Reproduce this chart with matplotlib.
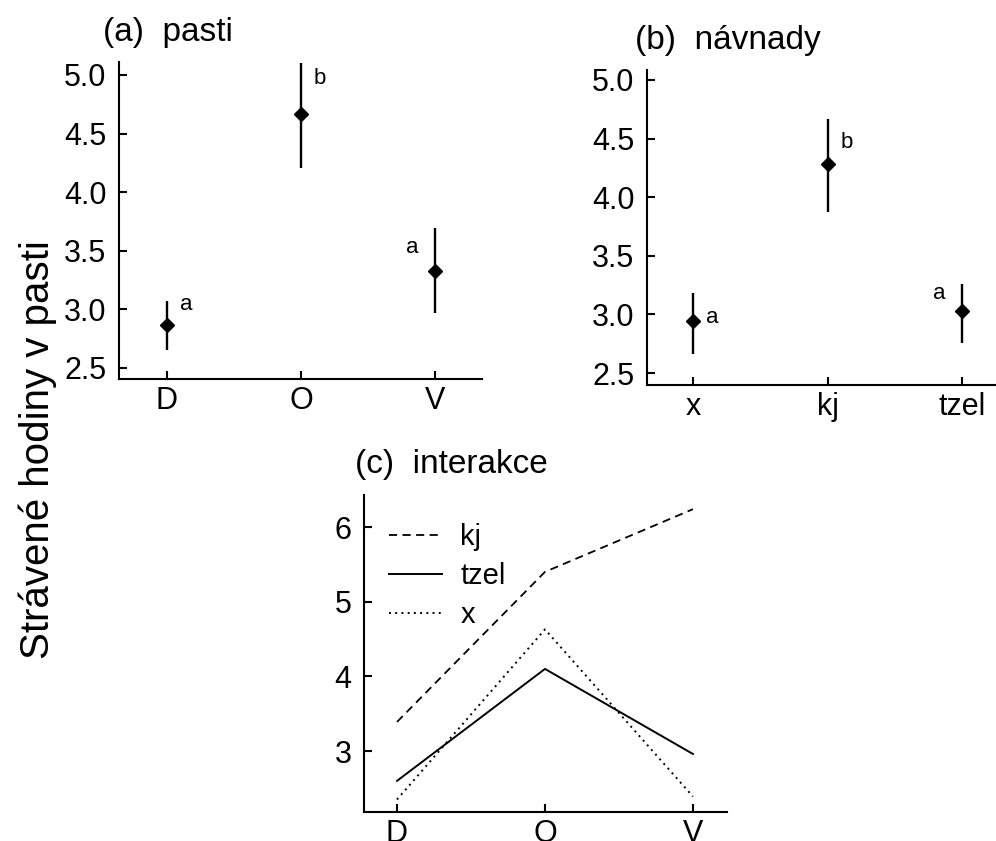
import matplotlib
matplotlib.use('Agg')
import matplotlib.pyplot as plt

plt.rcParams['font.family'] = ['Liberation Sans', 'DejaVu Sans']

W, H = 996, 841

# (a) pasti - průměry a intervaly
pasti = ['D', 'O', 'V']
pasti_mean = [2.87, 4.67, 3.33]
pasti_low = [2.65, 4.21, 2.97]
pasti_high = [3.07, 5.10, 3.69]
pasti_pismena = ['a', 'b', 'a']
pasti_pismena_y = [3.04, 4.97, 3.53]

# (b) návnady
navnady = ['x', 'kj', 'tzel']
navnady_mean = [2.94, 4.28, 3.03]
navnady_low = [2.66, 3.87, 2.76]
navnady_high = [3.18, 4.67, 3.26]
navnady_pismena = ['a', 'b', 'a']
navnady_pismena_y = [2.97, 4.47, 3.18]

# (c) interakce
inter_kj = [3.39, 5.40, 6.24]
inter_tzel = [2.60, 4.10, 2.96]
inter_x = [2.35, 4.63, 2.39]

# posun písmen vůči bodu (v jednotkách osy x)
pismena_dx = [0.14, 0.14, -0.17]

fig = plt.figure(figsize=(W / 100, H / 100), dpi=100)


def osa_px(left, top, right, bottom):
    return fig.add_axes([left / W, 1 - bottom / H, (right - left) / W, (bottom - top) / H])


def styl(ax):
    ax.spines['top'].set_visible(False)
    ax.spines['right'].set_visible(False)
    for s in ['left', 'bottom']:
        ax.spines[s].set_linewidth(1.5)
    ax.tick_params(axis='both', direction='in', length=6, width=1.5, labelsize=22)
    ax.tick_params(axis='y', pad=9)
    ax.tick_params(axis='x', pad=5)
    ax.patch.set_alpha(0)


def bodovy_graf(ax, kategorie, mean, low, high, pismena, pismena_y):
    xs = list(range(1, len(kategorie) + 1))
    ax.vlines(xs, low, high, color='black', lw=1.7)
    ax.plot(xs, mean, 'D', color='black', ms=7, ls='none')
    for i, p in enumerate(pismena):
        ax.text(xs[i] + pismena_dx[i], pismena_y[i], p, fontsize=16,
                ha='center', va='center')
    ax.set_xticks(xs)
    ax.set_xticklabels(kategorie)
    ax.set_yticks([2.5, 3.0, 3.5, 4.0, 4.5, 5.0])
    ax.set_yticklabels(['2.5', '3.0', '3.5', '4.0', '4.5', '5.0'])
    styl(ax)


# (a)
ax1 = osa_px(119, 62, 482, 379)
bodovy_graf(ax1, pasti, pasti_mean, pasti_low, pasti_high, pasti_pismena, pasti_pismena_y)
ax1.set_xlim(0.642, 3.35)
ax1.set_ylim(2.406, 5.11)

# (b)
ax2 = osa_px(647, 70, 1000, 385)
bodovy_graf(ax2, navnady, navnady_mean, navnady_low, navnady_high, navnady_pismena, navnady_pismena_y)
ax2.set_xlim(0.658, 3.28)
ax2.set_ylim(2.398, 5.085)

# (c)
ax3 = osa_px(364, 495, 727, 812)
xs = [1, 2, 3]
ax3.plot(xs, inter_kj, color='black', lw=1.3, ls=(0, (4.5, 3)), label='kj')
ax3.plot(xs, inter_tzel, color='black', lw=1.4, ls='-', label='tzel')
ax3.plot(xs, inter_x, color='black', lw=1.4, ls=(0, (1.0, 2.2)), label='x')
ax3.set_xticks(xs)
ax3.set_xticklabels(pasti)
ax3.set_yticks([3, 4, 5, 6])
ax3.set_xlim(0.777, 3.23)
ax3.set_ylim(2.183, 6.43)
styl(ax3)
ax3.legend(loc='upper left', bbox_to_anchor=(389 / W, 1 - 523 / H),
           bbox_transform=fig.transFigure, frameon=False, fontsize=21,
           handlelength=1.8, handletextpad=0.65, labelspacing=0.38,
           borderpad=0, borderaxespad=0)

# nadpisy panelů
fig.text(103 / W, 1 - 33 / H, '(a)  pasti', fontsize=24, va='center', ha='left')
fig.text(635 / W, 1 - 40 / H, '(b)  návnady', fontsize=24, va='center', ha='left')
fig.text(355 / W, 1 - 465 / H, '(c)  interakce', fontsize=24, va='center', ha='left')

fig.text(38 / W, 1 - 450 / H, 'Strávené hodiny v pasti', fontsize=29,
         rotation=90, va='center', ha='center')

fig.savefig('out.png', dpi=100)
